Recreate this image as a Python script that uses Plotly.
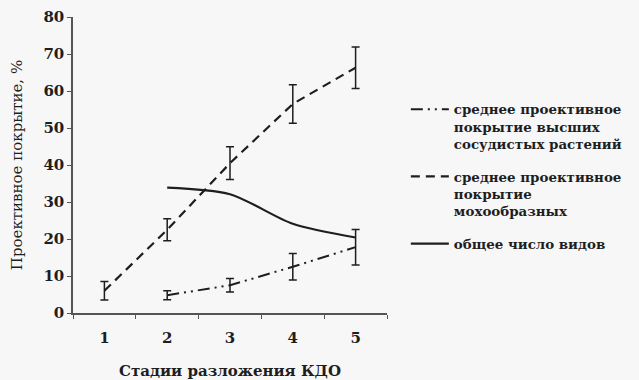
import plotly.graph_objects as go

stages = [1, 2, 3, 4, 5]
tick_labels = ["1", "2", "3", "4", "5"]

# среднее проективное покрытие высших сосудистых растений
vasc_x = [2, 3, 4, 5]
vasc_y = [4.8, 7.5, 12.5, 17.8]
vasc_err = [1.2, 1.8, 3.6, 4.8]

# среднее проективное покрытие мохообразных
moss_x = [1, 2, 3, 4, 5]
moss_y = [6.0, 22.5, 40.5, 56.5, 66.3]
moss_err = [2.5, 3.0, 4.4, 5.2, 5.6]

# общее число видов
species_x = [2, 3, 4, 5]
species_y = [33.9, 32.1, 24.1, 20.4]

legend_names = [
    "среднее проективное<br>покрытие высших<br>сосудистых растений",
    "среднее проективное<br>покрытие<br>мохообразных",
    "общее число видов",
]

ink = "#1e1e1e"
serif = "DejaVu Serif"

fig = go.Figure()
fig.add_trace(go.Scatter(
    x=vasc_x, y=vasc_y, mode="lines", name=legend_names[0], legendgroup="a",
    line=dict(color=ink, width=2, dash="12px,5px,2px,5px,2px,5px"),
    error_y=dict(type="data", array=vasc_err, visible=True, color=ink, thickness=1.5, width=4),
))
fig.add_trace(go.Scatter(
    x=moss_x, y=moss_y, mode="lines", name=legend_names[1], legendgroup="b",
    line=dict(color=ink, width=2.2, dash="9px,6px"),
    error_y=dict(type="data", array=moss_err, visible=True, color=ink, thickness=1.5, width=4),
))
fig.add_trace(go.Scatter(
    x=species_x, y=species_y, mode="lines", name=legend_names[2], legendgroup="c",
    line=dict(color=ink, width=2.2, shape="spline", smoothing=0.8),
))

fig.update_layout(
    width=639, height=380,
    margin=dict(l=73, r=239, t=17, b=67),
    paper_bgcolor="#f7f7f7", plot_bgcolor="#f7f7f7",
    font=dict(family=serif, color=ink),
    showlegend=True,
    legend=dict(
        x=1.06, xanchor="left", y=0.74, yanchor="top",
        bgcolor="rgba(0,0,0,0)", valign="top",
        font=dict(family=serif, size=13.4, color=ink, weight="bold"),
        itemwidth=38, traceorder="grouped", tracegroupgap=12,
    ),
    xaxis=dict(
        range=[0.5, 5.5], tickvals=stages, ticktext=tick_labels,
        ticks="", showgrid=False, zeroline=False, automargin=False,
        showline=True, linecolor="#555", linewidth=1.5,
        tickfont=dict(family=serif, size=15, color=ink, weight="bold"),
        ticklabelstandoff=10,
        minor=dict(tick0=0.5, dtick=1, ticks="outside", ticklen=4, tickcolor="#555", showgrid=False),
        title=dict(text="Стадии разложения КДО", standoff=22,
                   font=dict(family=serif, size=15, color=ink, weight="bold")),
    ),
    yaxis=dict(
        range=[0, 80], dtick=10, ticks="outside", ticklen=4, tickcolor="#555",
        showgrid=False, zeroline=False, automargin=False,
        showline=True, linecolor="#555", linewidth=1.5,
        tickfont=dict(family=serif, size=15, color=ink, weight="bold"),
        title=dict(text="Проективное покрытие, %", standoff=17,
                   font=dict(family=serif, size=15, color=ink)),
    ),
)

fig.write_html(
    "out.html",
    config={"displayModeBar": False},
    post_script="document.body.style.margin='0';document.body.style.background='#f7f7f7';",
)
